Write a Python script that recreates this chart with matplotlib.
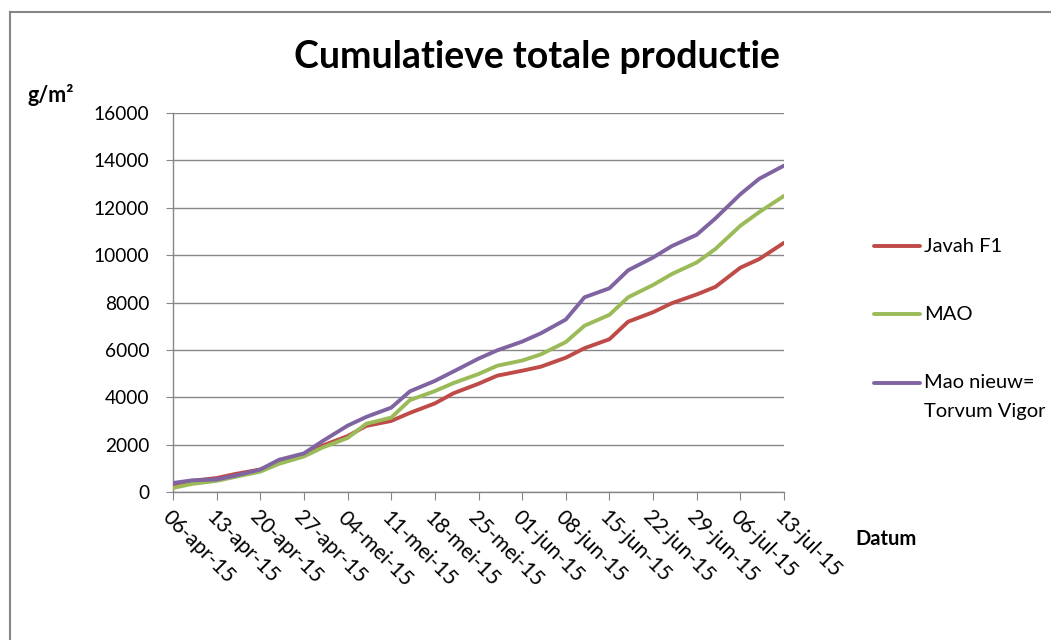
import matplotlib
matplotlib.use("Agg")
import matplotlib.pyplot as plt
from matplotlib.lines import Line2D
import datetime as dt

# ---- data ----
dates = ["2015-04-06", "2015-04-09", "2015-04-13", "2015-04-16", "2015-04-20", "2015-04-23",
         "2015-04-27", "2015-04-30", "2015-05-04", "2015-05-07", "2015-05-11", "2015-05-14",
         "2015-05-18", "2015-05-21", "2015-05-25", "2015-05-28", "2015-06-01", "2015-06-04",
         "2015-06-08", "2015-06-11", "2015-06-15", "2015-06-18", "2015-06-22", "2015-06-25",
         "2015-06-29", "2015-07-02", "2015-07-06", "2015-07-09", "2015-07-13"]
javah_f1 = [300, 470, 590, 760, 950, 1240, 1530, 1960, 2360, 2790, 3000, 3340, 3740, 4170,
            4570, 4910, 5120, 5290, 5670, 6070, 6450, 7190, 7590, 7970, 8340, 8660, 9470,
            9830, 10520]
mao = [170, 340, 470, 640, 860, 1190, 1500, 1880, 2280, 2880, 3140, 3880, 4260, 4600,
       4980, 5330, 5550, 5810, 6330, 7020, 7480, 8220, 8740, 9200, 9690, 10260, 11240,
       11810, 12500]
mao_nieuw = [380, 490, 530, 690, 950, 1360, 1630, 2150, 2800, 3170, 3560, 4250, 4690,
             5090, 5630, 5980, 6350, 6700, 7280, 8220, 8600, 9360, 9900, 10380, 10860,
             11550, 12570, 13220, 13780]
series_names = ["Javah F1", "MAO", "Mao nieuw=\nTorvum Vigor"]
tick_dates = ["2015-04-06", "2015-04-13", "2015-04-20", "2015-04-27", "2015-05-04",
              "2015-05-11", "2015-05-18", "2015-05-25", "2015-06-01", "2015-06-08",
              "2015-06-15", "2015-06-22", "2015-06-29", "2015-07-06", "2015-07-13"]
tick_labels = ["06-apr-15", "13-apr-15", "20-apr-15", "27-apr-15", "04-mei-15",
               "11-mei-15", "18-mei-15", "25-mei-15", "01-jun-15", "08-jun-15",
               "15-jun-15", "22-jun-15", "29-jun-15", "06-jul-15", "13-jul-15"]
y_ticks = [0, 2000, 4000, 6000, 8000, 10000, 12000, 14000, 16000]

plt.rcParams['font.family'] = ['Lato', 'DejaVu Sans']

W, H = 1051, 640
fig = plt.figure(figsize=(W / 100, H / 100), dpi=100)
ax = fig.add_axes([173 / W, 1 - 492 / H, (784 - 173) / W, (492 - 113) / H])

x = [dt.datetime.strptime(d, "%Y-%m-%d") for d in dates]
xt = [dt.datetime.strptime(d, "%Y-%m-%d") for d in tick_dates]

colors = ["#BE4B48", "#9BBB59", "#8064A2"]
for vals, c, name in zip([javah_f1, mao, mao_nieuw], colors, series_names):
    ax.plot(x, vals, color=c, lw=2.8, solid_joinstyle='round', solid_capstyle='round',
            label=name, zorder=3)

gray = "#868686"
ax.set_xlim(xt[0], xt[-1])
ax.set_ylim(0, 16000)
ax.set_yticks(y_ticks)
ax.set_yticklabels([str(v) for v in y_ticks])
ax.set_xticks(xt)
ax.set_xticklabels(tick_labels, rotation=-45, ha='left', va='top', rotation_mode='anchor')
ax.grid(axis='y', color=gray, lw=1)
ax.set_axisbelow(True)
for s in ['top', 'right']:
    ax.spines[s].set_visible(False)
for s in ['left', 'bottom']:
    ax.spines[s].set_color(gray)
    ax.spines[s].set_linewidth(1)
ax.tick_params(axis='x', direction='out', length=6, color=gray, labelsize=15,
               labelcolor='black', pad=5)
ax.tick_params(axis='y', direction='out', length=5, color=gray, labelsize=13.8,
               labelcolor='black', pad=12)

fig.text(537 / W, 1 - 57 / H, "Cumulatieve totale productie", ha='center', va='center',
         fontsize=27, fontweight='bold')
fig.text(28 / W, 1 - 95 / H, "g/m²", ha='left', va='center', fontsize=15.5, fontweight='bold')
fig.text(855 / W, 1 - 539 / H, "Datum", ha='left', va='center', fontsize=14.5, fontweight='bold')

# legend
leg_y = [246, 314, 383]
for c, name, yy in zip(colors, series_names, leg_y):
    yf = 1 - yy / H
    fig.add_artist(Line2D([874 / W, 920 / W], [yf, yf], color=c, lw=2.8,
                          solid_capstyle='round'))
    if "\n" in name:
        first, second = name.split("\n")
        fig.text(924 / W, yf, first, ha='left', va='center', fontsize=14.5)
        fig.text(924 / W, 1 - 412 / H, second, ha='left', va='center', fontsize=14.5)
    else:
        fig.text(924 / W, yf, name, ha='left', va='center', fontsize=14.5)

# outer frame
fig.add_artist(Line2D([10 / W, 10 / W], [0, 1 - 12 / H], color=gray, lw=1.5))
fig.add_artist(Line2D([10 / W, 1], [1 - 12 / H, 1 - 12 / H], color=gray, lw=1.5))

fig.savefig("out.png", dpi=100)
